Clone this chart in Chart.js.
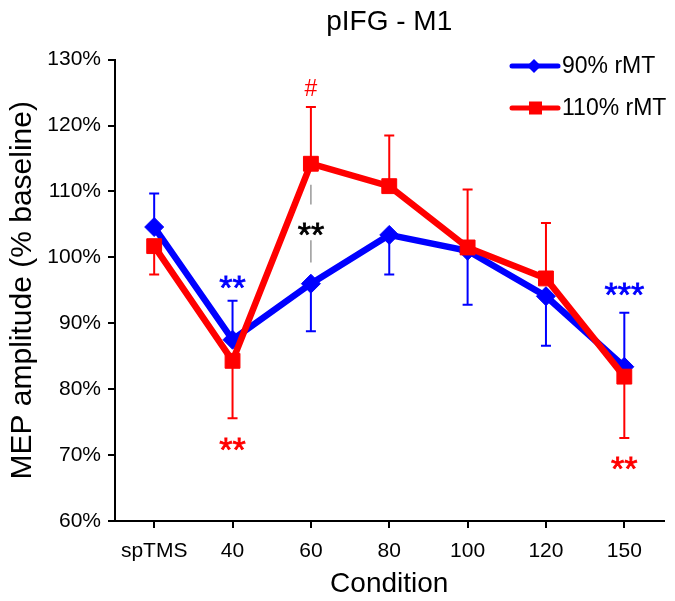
<!DOCTYPE html>
<html>
<head>
<meta charset="utf-8">
<title>pIFG - M1</title>
<script src="https://cdn.jsdelivr.net/npm/chart.js@4/dist/chart.umd.min.js"></script>
<style>
  html, body { margin: 0; padding: 0; background: #fff; }
  #wrap { width: 675px; height: 601px; }
</style>
</head>
<body>
<div id="wrap"><canvas id="mepChart" width="675" height="601"></canvas></div>
<script>
'use strict';

// ── Data ───────────────────────────────────────
const CONDITIONS = ['spTMS', '40', '60', '80', '100', '120', '150'];

const MT90      = [104.6, 87.5, 96.0, 103.4, 101.0, 94.1, 83.4];
const MT90_ERR  = [5.1, 5.9, 7.2, 6.0, 8.2, 7.5, 8.2];
const MT90_DIR  = [1, 1, -1, -1, -1, -1, 1];    // error bar drawn up (1) or down (-1)

const MT110     = [101.7, 84.3, 114.2, 110.8, 101.5, 96.8, 81.9];
const MT110_ERR = [4.3, 8.7, 8.6, 7.7, 8.8, 8.4, 9.3];
const MT110_DIR = [-1, -1, 1, 1, 1, 1, -1];

const Y_TICKS = [60, 70, 80, 90, 100, 110, 120, 130];

// significance marks: category index, value (glyph centre), text, colour
const MARKS = [
  { cat: 1, val: 96.6,  text: '**',  color: '#0000ff' },
  { cat: 1, val: 72.1,  text: '**',  color: '#ff0000' },
  { cat: 2, val: 125.8, text: '#',   color: '#ff0000' },
  { cat: 2, val: 104.6, text: '**',  color: '#000000' },
  { cat: 6, val: 95.6,  text: '***', color: '#0000ff' },
  { cat: 6, val: 69.2,  text: '**',  color: '#ff0000' },
];

// grey connector between the two 60 points (with gap for the label)
const LINK = { cat: 2, from: 111.0, to: 99.2, gapFrom: 108.0, gapTo: 102.6 };

const FONT = "'Liberation Sans', Arial, sans-serif";

// ── Error bars ─────────────────────────────────
const errorBars = {
  id: 'errorBars',
  beforeDatasetsDraw(chart) {
    const { ctx, scales: { x, y } } = chart;
    chart.data.datasets.forEach(ds => {
      ctx.save();
      ctx.strokeStyle = ds.borderColor;
      ctx.lineWidth = 2;
      ds.data.forEach((v, i) => {
        const px = x.getPixelForValue(i);
        const y0 = y.getPixelForValue(v);
        const y1 = y.getPixelForValue(v + ds.errDir[i] * ds.err[i]);
        ctx.beginPath();
        ctx.moveTo(px, y0);
        ctx.lineTo(px, y1);
        ctx.moveTo(px - 5, y1);
        ctx.lineTo(px + 5, y1);
        ctx.stroke();
      });
      ctx.restore();
    });
  },
};

// ── Significance marks, connector, legend ──────
const extras = {
  id: 'extras',
  afterDatasetsDraw(chart) {
    const { ctx, scales: { x, y } } = chart;
    ctx.save();

    // connector
    const lx = x.getPixelForValue(LINK.cat);
    ctx.strokeStyle = '#999';
    ctx.lineWidth = 1.5;
    ctx.beginPath();
    ctx.moveTo(lx, y.getPixelForValue(LINK.from));
    ctx.lineTo(lx, y.getPixelForValue(LINK.gapFrom));
    ctx.moveTo(lx, y.getPixelForValue(LINK.gapTo));
    ctx.lineTo(lx, y.getPixelForValue(LINK.to));
    ctx.stroke();

    // marks
    ctx.textAlign = 'center';
    ctx.textBaseline = 'alphabetic';
    MARKS.forEach(m => {
      const isHash = m.text === '#';
      const size = isHash ? 23 : 34;
      const lift = isHash ? 0.36 : 0.57;
      ctx.font = `${size}px ${FONT}`;
      ctx.fillStyle = m.color;
      ctx.strokeStyle = m.color;
      ctx.lineWidth = isHash ? 0 : 0.8;
      const tx = x.getPixelForValue(m.cat);
      const ty = y.getPixelForValue(m.val) + lift * size;
      ctx.fillText(m.text, tx, ty);
      if (!isHash) ctx.strokeText(m.text, tx, ty);
    });

    // legend
    const rows = [66, 108];
    chart.data.datasets.forEach((ds, k) => {
      const ly = rows[k];
      ctx.strokeStyle = ds.borderColor;
      ctx.lineWidth = 5;
      ctx.lineCap = 'round';
      ctx.beginPath();
      ctx.moveTo(512, ly);
      ctx.lineTo(558, ly);
      ctx.stroke();
      ctx.fillStyle = ds.borderColor;
      if (ds.pointStyle === 'rectRot') {
        ctx.beginPath();
        ctx.moveTo(534, ly - 7);
        ctx.lineTo(541, ly);
        ctx.lineTo(534, ly + 7);
        ctx.lineTo(527, ly);
        ctx.closePath();
        ctx.fill();
      } else {
        ctx.fillRect(529, ly - 6.5, 13, 13);
      }
      ctx.font = `23px ${FONT}`;
      ctx.textAlign = 'left';
      ctx.textBaseline = 'middle';
      ctx.fillStyle = '#000';
      ctx.fillText(ds.label, 562, ly + 1);
    });

    ctx.restore();
  },
};

// ── Chart ──────────────────────────────────────
new Chart(document.getElementById('mepChart'), {
  type: 'line',
  data: {
    labels: CONDITIONS,
    datasets: [
      {
        label: '90% rMT',
        data: MT90,
        err: MT90_ERR,
        errDir: MT90_DIR,
        borderColor: '#0000ff',
        backgroundColor: '#0000ff',
        borderWidth: 6.5,
        pointStyle: 'rectRot',
        pointRadius: 9.5,
        pointBorderWidth: 1,
        tension: 0,
        order: 1,
      },
      {
        label: '110% rMT',
        data: MT110,
        err: MT110_ERR,
        errDir: MT110_DIR,
        borderColor: '#ff0000',
        backgroundColor: '#ff0000',
        borderWidth: 6.5,
        pointStyle: 'rect',
        pointRadius: 10.5,
        pointBorderWidth: 1,
        tension: 0,
        order: 0,
      },
    ],
  },
  options: {
    responsive: false,
    animation: false,
    layout: { padding: { left: 0, right: 6, top: 0, bottom: 0 } },
    plugins: {
      legend: { display: false },
      tooltip: { enabled: false },
      title: {
        display: true,
        fullSize: false,
        text: 'pIFG - M1',
        color: '#000',
        font: { family: FONT, size: 28, weight: 'normal' },
        padding: { top: 5, bottom: 21 },
      },
    },
    scales: {
      x: {
        type: 'category',
        offset: true,
        grid: { drawOnChartArea: false, offset: false, tickLength: 7, color: '#000', lineWidth: 2 },
        border: { color: '#000', width: 2 },
        ticks: { color: '#000', padding: 11, font: { family: FONT, size: 21 } },
        title: {
          display: true,
          text: 'Condition',
          color: '#000',
          font: { family: FONT, size: 28 },
          padding: { top: 0, bottom: 0 },
        },
        afterFit(scale) { scale.height = 80; },
      },
      y: {
        min: 60,
        max: 130,
        afterBuildTicks(scale) { scale.ticks = Y_TICKS.map(v => ({ value: v })); },
        grid: { drawOnChartArea: false, tickLength: 7, color: '#000', lineWidth: 2 },
        border: { color: '#000', width: 2 },
        ticks: {
          color: '#000',
          padding: 7,
          font: { family: FONT, size: 21 },
          callback: v => v + '%',
        },
        title: {
          display: true,
          text: 'MEP amplitude (% baseline)',
          color: '#000',
          font: { family: FONT, size: 30 },
          padding: { top: 5, bottom: 0 },
        },
        afterFit(scale) { scale.width = 115; },
      },
    },
  },
  plugins: [errorBars, extras],
});
</script>
</body>
</html>
